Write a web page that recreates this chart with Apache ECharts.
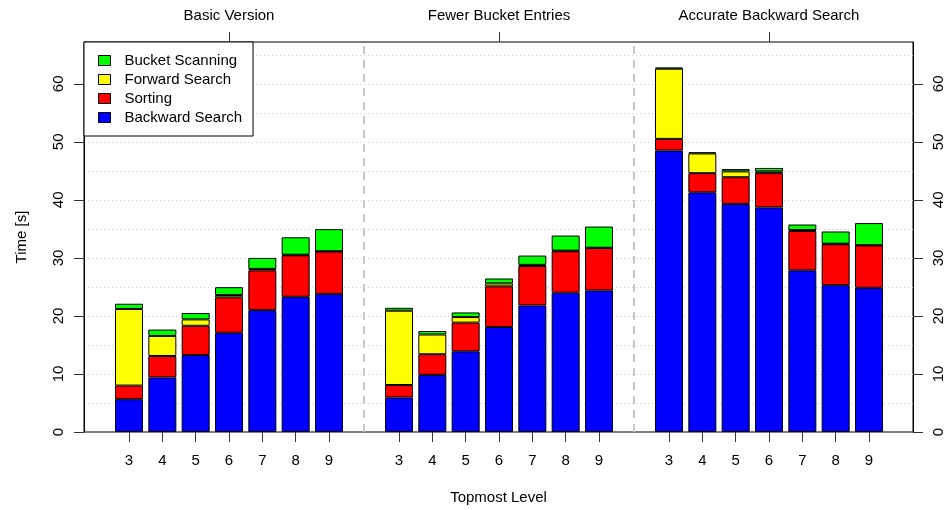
<!DOCTYPE html>
<html><head><meta charset="utf-8">
<script src="https://cdn.jsdelivr.net/npm/echarts@6/dist/echarts.min.js"></script>
<style>html,body{margin:0;padding:0;background:#fff}#c{width:951px;height:510px}</style>
</head><body><div id="c"></div>
<script>
const groups = ['Basic Version', 'Fewer Bucket Entries', 'Accurate Backward Search'];
const levels = ['3', '4', '5', '6', '7', '8', '9'];
const yTicks = [0, 10, 20, 30, 40, 50, 60];
const backwardSearch = [5.65, 9.4, 13.25, 17.1, 21.0, 23.3, 23.8, 5.95, 9.85, 13.9, 18.1, 21.8, 24.0, 24.4, 48.5, 41.3, 39.3, 38.7, 27.85, 25.3, 24.85];
const sorting = [2.35, 3.7, 5.05, 6.1, 6.85, 7.15, 7.3, 2.15, 3.55, 4.95, 7.0, 6.8, 7.15, 7.3, 2.0, 3.3, 4.6, 5.9, 6.8, 7.05, 7.3];
const forwardSearch = [13.2, 3.45, 1.1, 0.4, 0.25, 0.1, 0.05, 12.8, 3.4, 0.95, 0.5, 0.2, 0.1, 0.05, 12.1, 3.4, 1.0, 0.3, 0.15, 0.1, 0.05];
const bucketScanning = [0.9, 1.1, 1.1, 1.35, 1.9, 3.0, 3.8, 0.5, 0.6, 0.8, 0.85, 1.6, 2.6, 3.65, 0.2, 0.2, 0.4, 0.6, 0.95, 2.1, 3.8];

const GROUP_STEP = 8.1;
const nPer = levels.length;
const xPos = k => Math.floor(k / nPer) * GROUP_STEP + (k % nPer);
const positions = backwardSearch.map((_, k) => xPos(k));
const groupCenters = groups.map((_, g) => g * GROUP_STEP + (nPer - 1) / 2);
const separators = [1, 2].map(g => g * GROUP_STEP - (GROUP_STEP - (nPer - 1)) / 2);
const levelLabel = v => {
  let best = 0, bd = 1e9;
  positions.forEach((p, k) => { const d = Math.abs(p - v); if (d < bd) { bd = d; best = k; } });
  return levels[best % nPer];
};
const groupLabel = v => {
  let best = 0, bd = 1e9;
  groupCenters.forEach((p, g) => { const d = Math.abs(p - v); if (d < bd) { bd = d; best = g; } });
  return groups[best];
};

const FONT = "'Liberation Sans', Arial, Helvetica, sans-serif";
const tickStyle = { color: '#333', width: 1 };
// value first, position second, so the value dimension is the stacked one
const mk = (name, arr, color, extra) => Object.assign({
  name, type: 'bar', stack: 'total', barWidth: 28,
  data: arr.map((v, k) => [v, xPos(k)]),
  encode: { x: 1, y: 0 },
  itemStyle: { color, borderColor: '#000', borderWidth: 1 },
  emphasis: { disabled: true }
}, extra || {});

const chart = echarts.init(document.getElementById('c'), null, { renderer: 'canvas' });
chart.setOption({
  animation: false,
  textStyle: { fontFamily: FONT },
  grid: { left: 84, right: 38, top: 42, bottom: 78, show: true, borderColor: '#000', borderWidth: 1, backgroundColor: 'transparent' },
  legend: {
    orient: 'vertical', left: 84, top: 42,
    data: ['Bucket Scanning', 'Forward Search', 'Sorting', 'Backward Search'],
    icon: 'rect', itemWidth: 12, itemHeight: 10, itemGap: 4,
    padding: [11, 11, 11, 14],
    backgroundColor: '#fff', borderColor: '#000', borderWidth: 1, borderRadius: 0,
    itemStyle: { borderColor: '#000', borderWidth: 1 },
    textStyle: { fontSize: 15, color: '#000', lineHeight: 14, padding: [0, 0, 0, 9], fontFamily: FONT },
    selectedMode: false
  },
  xAxis: [
    {
      type: 'value', position: 'bottom', min: -1.35, max: 23.52,
      axisLine: { show: false, onZero: false }, splitLine: { show: false },
      axisTick: { show: true, customValues: positions, length: 10, lineStyle: tickStyle },
      axisLabel: { customValues: positions, formatter: v => levelLabel(v), margin: 21, fontSize: 15, color: '#000', fontFamily: FONT },
      name: 'Topmost Level', nameLocation: 'middle', nameGap: 58,
      nameTextStyle: { fontSize: 15, color: '#000', fontFamily: FONT }
    },
    {
      type: 'value', position: 'top', min: -1.35, max: 23.52,
      axisLine: { show: false, onZero: false }, splitLine: { show: false },
      axisTick: { show: true, customValues: groupCenters, length: 10, lineStyle: tickStyle },
      axisLabel: { customValues: groupCenters, formatter: v => groupLabel(v), margin: 19, fontSize: 15, color: '#000', fontFamily: FONT }
    }
  ],
  yAxis: [
    {
      type: 'value', position: 'left', min: 0, max: 67.2,
      axisLine: { show: true, onZero: false, lineStyle: { color: '#000' } },
      splitLine: { show: false },
      axisTick: { show: true, customValues: yTicks, length: 10, lineStyle: tickStyle },
      axisLabel: { customValues: yTicks, rotate: 90, margin: 18, fontSize: 15, color: '#000', fontFamily: FONT },
      name: 'Time [s]', nameLocation: 'middle', nameGap: 55, nameRotate: 90,
      nameTextStyle: { fontSize: 15, color: '#000', fontFamily: FONT }
    },
    {
      type: 'value', position: 'right', min: 0, max: 67.2,
      axisLine: { show: true, onZero: false, lineStyle: { color: '#000' } },
      splitLine: { show: false },
      axisTick: { show: true, customValues: yTicks, length: 10, lineStyle: tickStyle },
      axisLabel: { customValues: yTicks, rotate: 90, margin: 18, fontSize: 15, color: '#000', fontFamily: FONT }
    },
    {
      type: 'value', position: 'left', min: 0, max: 67.2, interval: 5,
      axisLine: { show: false, onZero: false }, axisTick: { show: false }, axisLabel: { show: false },
      splitLine: { show: true, showMinLine: false, showMaxLine: false, lineStyle: { color: '#d0d0d0', type: [1, 3], width: 1 } }
    }
  ],
  series: [
    mk('Backward Search', backwardSearch, '#0000ff', {
      markLine: {
        silent: true, symbol: ['none', 'none'], label: { show: false },
        lineStyle: { color: '#c8c8c8', type: [8, 6], width: 2 },
        emphasis: { disabled: true },
        data: separators.map(x => ({ xAxis: x }))
      }
    }),
    mk('Sorting', sorting, '#ff0000'),
    mk('Forward Search', forwardSearch, '#ffff00'),
    mk('Bucket Scanning', bucketScanning, '#00ff00')
  ]
});
</script>
</body></html>
